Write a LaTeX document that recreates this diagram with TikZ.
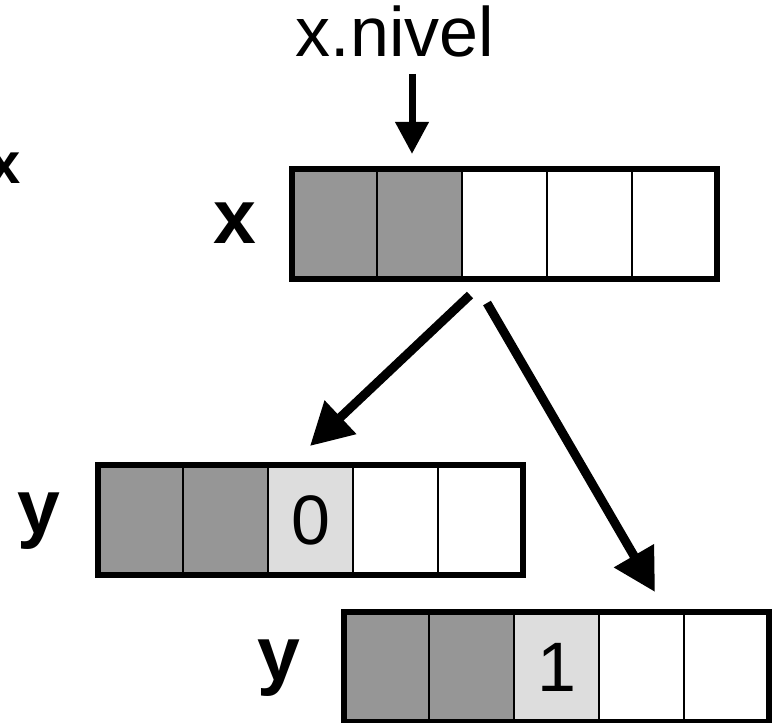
\documentclass[tikz,border=0pt]{standalone}
\usepackage{fontspec}
\setmainfont{Liberation Sans}
\usetikzlibrary{arrows.meta,fit}
\definecolor{cdark}{RGB}{150,150,150}
\definecolor{clight}{RGB}{221,221,221}
\begin{document}
\begin{tikzpicture}[x=1pt,y=-1pt,
  cell/.style={draw=black,line width=2pt,minimum width=85pt,minimum height=110pt,inner sep=0pt,outer sep=0pt,font=\fontsize{70}{70}\selectfont},
  dark/.style={cell,fill=cdark},
  light/.style={cell,fill=clight},
  blank/.style={cell,fill=white},
  frame/.style={draw=black,line width=6pt,inner sep=0pt},
  biglab/.style={anchor=base,inner sep=0pt,font=\bfseries\fontsize{77}{77}\selectfont},
  conn/.style={line width=9pt,-{Triangle[length=42pt,width=44pt]}},
  topconn/.style={line width=7pt,-{Triangle[length=32pt,width=32pt]}}
]
\useasboundingbox (0,0) rectangle (778,722);
\clip (0,0) rectangle (778,722);
% top array x
\foreach \i/\s in {1/dark,2/dark,3/blank,4/blank,5/blank}
  \node[\s] (t\i) at ({292+85*\i-42.5},224) {};
\node[frame,fit=(t1)(t5)] (xarr) {};
% middle array y (0)
\foreach \i/\s in {1/dark,2/dark,4/blank,5/blank}
  \node[\s] (m\i) at ({98+85*\i-42.5},520) {};
\node[light] (m3) at ({98+85*3-42.5},520) {0};
\node[frame,fit=(m1)(m5)] (yarr0) {};
% bottom array y (1)
\foreach \i/\s in {1/dark,2/dark,4/blank,5/blank}
  \node[\s] (b\i) at ({344+85*\i-42.5},667) {};
\node[light] (b3) at ({344+85*3-42.5},667) {1};
\node[frame,fit=(b1)(b5)] (yarr1) {};
% labels
\node[anchor=base,inner sep=0pt,font=\fontsize{70}{70}\selectfont] (niv) at (395,57) {x.nivel};
\node[biglab] (lx) at (234.5,243) {x};
\node[biglab] (ly0) at (39,533) {y};
\node[biglab] (ly1) at (279,680) {y};
% cropped letters at the left edge
\node[anchor=base,inner sep=0pt,font=\bfseries\fontsize{58}{58}\selectfont] (cx) at (5,183) {x};
\node[anchor=base,inner sep=0pt,font=\fontsize{60}{60}\selectfont] (cx2) at (-15,681) {x};
% connectors
\coordinate (ns) at (412,74);
\coordinate (nt) at (412,154);
\coordinate (ls) at (470,295);
\coordinate (lt) at (310,446);
\coordinate (rs) at (487,303);
\coordinate (rt) at (655,592);
\draw[topconn] (ns) -- (nt);
\draw[conn] (ls) -- (lt);
\draw[conn] (rs) -- (rt);
\end{tikzpicture}
\end{document}
